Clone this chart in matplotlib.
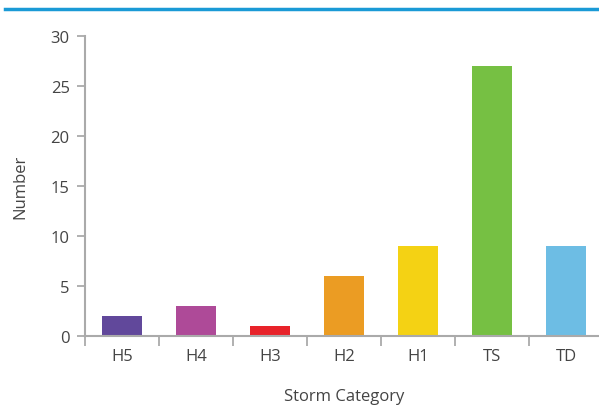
import numpy as np
import matplotlib
matplotlib.use("Agg")
import matplotlib.pyplot as plt

categories = ["H5", "H4", "H3", "H2", "H1", "TS", "TD"]
counts = [2, 3, 1, 6, 9, 27, 9]
colors = ["#61489b", "#ae4a98", "#e8232a", "#eb9c23", "#f4d214", "#76c043", "#6dbde4"]

plt.rcParams['font.family'] = ['Open Sans', 'DejaVu Sans']
txt = "#444444"
axc = "#aaaaaa"

fig = plt.figure(figsize=(5.99, 4.06), dpi=100)
ax = fig.add_axes([85 / 599, 69 / 406, 518 / 599, 300 / 406])

x = np.arange(len(categories))
ax.bar(x, counts, width=0.53, color=colors, zorder=2)

ax.set_xlim(-0.5, len(categories) - 0.5)
ax.set_ylim(0, 30)
ax.set_yticks(range(0, 31, 5))
ax.set_xticks(x)
ax.set_xticklabels(categories)
ax.set_xticks(np.arange(-0.5, len(categories)), minor=True)
ax.tick_params(axis="x", which="major", length=0, pad=9, labelsize=12, labelcolor=txt)
ax.tick_params(axis="x", which="minor", length=7, width=1.3, color=axc)
ax.tick_params(axis="y", length=6, width=1.3, color=axc, labelsize=12, labelcolor=txt, pad=5)

for s in ["top", "right"]:
    ax.spines[s].set_visible(False)
for s in ["left", "bottom"]:
    ax.spines[s].set_color(axc)
    ax.spines[s].set_linewidth(1.5)

ax.set_ylabel("Number", fontsize=12, color=txt, labelpad=16)
ax.set_xlabel("Storm Category", fontsize=12, color=txt, labelpad=17)

# blue rule across the top
fig.add_artist(plt.Line2D([5 / 599, 1], [1 - 9.5 / 406] * 2, color="#1a9ad6", lw=2.5))

fig.savefig("out.png", dpi=100)
